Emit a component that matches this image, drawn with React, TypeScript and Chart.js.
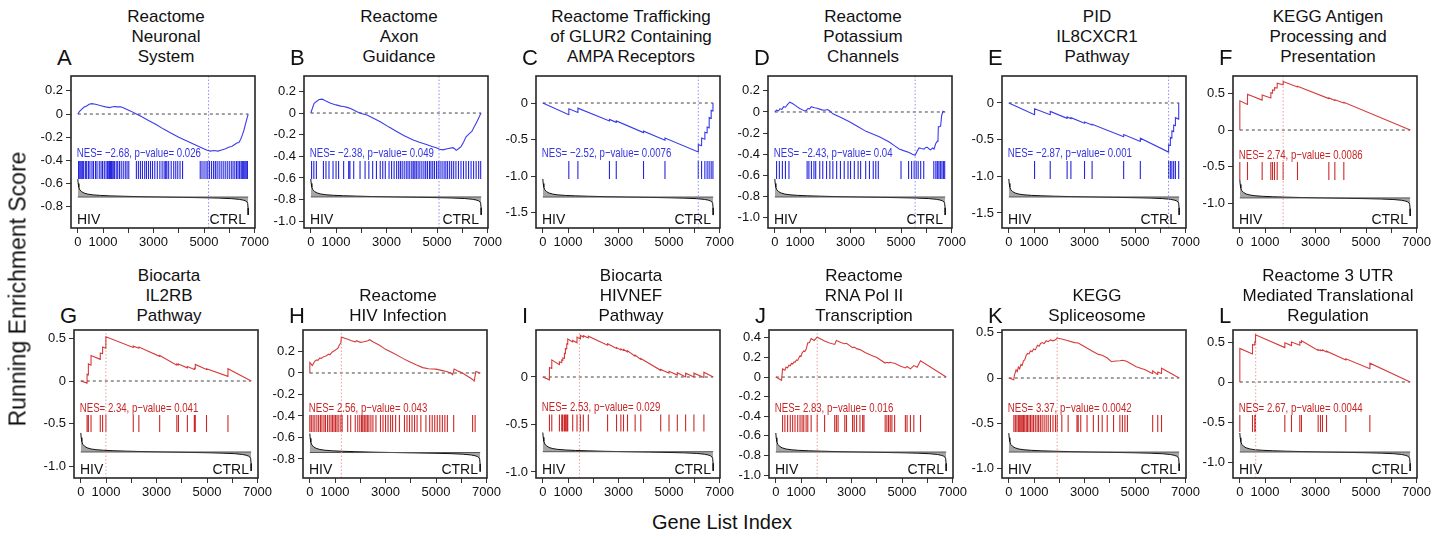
import React, { useEffect, useRef } from 'react';
import { Chart, registerables } from 'chart.js';
Chart.register(...registerables);

const FONT = '"Liberation Sans", Arial, Helvetica, sans-serif';

// ---------- data ----------
const panelLetters = ['A', 'B', 'C', 'D', 'E', 'F', 'G', 'H', 'I', 'J', 'K', 'L'];
const panelTitles = [
  ['Reactome', 'Neuronal', 'System'],
  ['Reactome', 'Axon', 'Guidance'],
  ['Reactome Trafficking', 'of GLUR2 Containing', 'AMPA Receptors'],
  ['Reactome', 'Potassium', 'Channels'],
  ['PID', 'IL8CXCR1', 'Pathway'],
  ['KEGG Antigen', 'Processing and', 'Presentation'],
  ['Biocarta', 'IL2RB', 'Pathway'],
  ['Reactome', 'HIV Infection'],
  ['Biocarta', 'HIVNEF', 'Pathway'],
  ['Reactome', 'RNA Pol II', 'Transcription'],
  ['KEGG', 'Spliceosome'],
  ['Reactome 3 UTR', 'Mediated Translational', 'Regulation'],
];
const nesValues = [-2.68, -2.38, -2.52, -2.43, -2.87, 2.74, 2.34, 2.56, 2.53, 2.83, 3.37, 2.67];
const pValues = ['0.026', '0.049', '0.0076', '0.04', '0.001', '0.0086', '0.041', '0.043', '0.029', '0.016', '0.0042', '0.0044'];
const peakIndex = [5180, 5080, 6160, 5560, 6330, 1717, 993, 1250, 1450, 1640, 1916, 630];
const groupLabels = ['HIV', 'CTRL'];

const yMin = [-0.983, -1.062, -1.712, -1.096, -1.705, -1.342, -1.141, -0.977, -1.064, -1.03, -1.102, -1.2];
const yMax = [0.328, 0.342, 0.37, 0.34, 0.368, 0.74, 0.6, 0.4, 0.495, 0.48, 0.529, 0.65];
const yTicks = [
  [0.2, 0, -0.2, -0.4, -0.6, -0.8],
  [0.2, 0, -0.2, -0.4, -0.6, -0.8, -1.0],
  [0, -0.5, -1.0, -1.5],
  [0.2, 0, -0.2, -0.4, -0.6, -0.8, -1.0],
  [0, -0.5, -1.0, -1.5],
  [0.5, 0, -0.5, -1.0],
  [0.5, 0, -0.5, -1.0],
  [0.2, 0, -0.2, -0.4, -0.6, -0.8],
  [0, -0.5, -1.0],
  [0.4, 0.2, 0, -0.2, -0.4, -0.6, -0.8, -1.0],
  [0.5, 0, -0.5, -1.0],
  [0.5, 0, -0.5, -1.0],
];
const xTickValues = [0, 1000, 2000, 3000, 4000, 5000, 6000, 7000];
const xLabelValues = [0, 1000, 3000, 5000, 7000];
const geneListLength = 6750;

const nesY = [-0.336, -0.369, -0.685, -0.388, -0.682, -0.342, -0.318, -0.326, -0.319, -0.316, -0.331, -0.325];
const hitTop = [-0.405, -0.443, -0.795, -0.463, -0.791, -0.438, -0.4, -0.391, -0.394, -0.388, -0.408, -0.413];
const hitBottom = [-0.56, -0.609, -1.041, -0.633, -1.037, -0.685, -0.6, -0.549, -0.574, -0.561, -0.595, -0.625];
const metricBase = [-0.716, -0.775, -1.288, -0.803, -1.282, -0.93, -0.835, -0.74, -0.787, -0.765, -0.816, -0.875];
const metricScale = [0.155, 0.166, 0.247, 0.17, 0.246, 0.247, 0.224, 0.177, 0.202, 0.194, 0.209, 0.2375];

// ranked list metric (normalised)
const metricIndex = [0, 15, 40, 80, 150, 250, 400, 600, 900, 1300, 1800, 2500, 3300, 4200, 5000, 5600, 6100, 6400, 6550, 6650, 6700, 6730, 6745, 6750];
const metricValue = [1.0, 0.75, 0.55, 0.4, 0.3, 0.22, 0.16, 0.12, 0.09, 0.065, 0.045, 0.02, 0.0, -0.02, -0.04, -0.06, -0.09, -0.13, -0.17, -0.22, -0.27, -0.35, -0.6, -1.0];

// running enrichment scores [index, ES]
const esA = [[0,0],[60,0.02],[150,0.04],[250,0.06],[350,0.07],[450,0.085],[550,0.09],[700,0.085],[850,0.075],[950,0.07],[1100,0.062],[1250,0.055],[1350,0.06],[1450,0.065],[1550,0.062],[1700,0.063],[1800,0.055],[1950,0.04],[2100,0.025],[2300,0.003],[2500,-0.02],[2800,-0.055],[3100,-0.09],[3400,-0.13],[3700,-0.165],[4000,-0.2],[4300,-0.23],[4600,-0.26],[4900,-0.29],[5100,-0.31],[5250,-0.32],[5400,-0.315],[5550,-0.32],[5700,-0.31],[5850,-0.3],[6000,-0.285],[6100,-0.28],[6200,-0.265],[6300,-0.25],[6380,-0.245],[6450,-0.22],[6520,-0.18],[6580,-0.14],[6640,-0.09],[6700,-0.04],[6750,0]];
const esB = [[0,0],[130,0.09],[330,0.125],[460,0.128],[600,0.11],[785,0.09],[1000,0.075],[1180,0.064],[1300,0.06],[1440,0.052],[1600,0.04],[1830,0.012],[2000,-0.005],[2225,-0.018],[2500,-0.05],[2750,-0.08],[3100,-0.13],[3400,-0.17],[3700,-0.21],[4060,-0.25],[4300,-0.27],[4580,-0.29],[4800,-0.31],[4970,-0.32],[5100,-0.335],[5235,-0.34],[5400,-0.33],[5630,-0.32],[5700,-0.33],[5760,-0.345],[5850,-0.33],[5950,-0.31],[6050,-0.27],[6150,-0.22],[6280,-0.19],[6380,-0.17],[6480,-0.125],[6580,-0.08],[6675,-0.035],[6740,0]];
const esC = [[0,0],[1030,-0.16],[1031,-0.08],[1390,-0.13],[1391,-0.07],[2640,-0.245],[2641,-0.225],[2910,-0.265],[2911,-0.245],[3990,-0.405],[3991,-0.385],[4840,-0.51],[4841,-0.48],[6160,-0.67],[6161,-0.57],[6290,-0.585],[6291,-0.48],[6420,-0.495],[6421,-0.4],[6510,-0.41],[6511,-0.33],[6590,-0.34],[6591,-0.2],[6670,-0.21],[6671,-0.1],[6740,-0.11],[6741,0]];
const esD = [[0,0],[70,0.017],[150,0.01],[200,0.03],[280,0.025],[350,0.05],[420,0.045],[500,0.07],[590,0.093],[700,0.08],[850,0.055],[985,0.033],[1100,0.02],[1180,0.01],[1250,0.015],[1314,0.033],[1380,0.03],[1445,0.05],[1510,0.045],[1577,0.04],[1680,0.035],[1774,0.027],[1870,0.02],[1971,0.017],[2100,0.023],[2200,0.005],[2300,-0.017],[2600,-0.05],[2957,-0.093],[3300,-0.14],[3614,-0.183],[3900,-0.21],[4140,-0.233],[4534,-0.283],[4750,-0.32],[4928,-0.35],[5100,-0.365],[5322,-0.383],[5450,-0.4],[5558,-0.41],[5600,-0.39],[5650,-0.367],[5716,-0.34],[5800,-0.345],[5913,-0.35],[5980,-0.335],[6045,-0.333],[6110,-0.35],[6176,-0.357],[6250,-0.34],[6308,-0.35],[6373,-0.3],[6440,-0.275],[6465,-0.267],[6478,-0.14],[6520,-0.14],[6570,-0.133],[6610,-0.033],[6662,0.007],[6728,0]];
const esE = [[0,0],[1020,-0.16],[1021,-0.08],[1640,-0.16],[1641,-0.115],[2310,-0.21],[2311,-0.19],[2460,-0.215],[2461,-0.2],[3000,-0.275],[3001,-0.26],[3300,-0.3],[3301,-0.29],[4550,-0.46],[4551,-0.43],[5210,-0.525],[5211,-0.48],[6330,-0.67],[6331,-0.57],[6400,-0.58],[6401,-0.47],[6460,-0.48],[6461,-0.38],[6530,-0.39],[6531,-0.3],[6600,-0.31],[6601,-0.2],[6730,-0.22],[6731,0]];
const esF = [[0,0],[1,0.4],[304,0.35],[305,0.49],[885,0.41],[886,0.48],[1229,0.44],[1230,0.51],[1295,0.505],[1296,0.55],[1374,0.545],[1375,0.58],[1480,0.575],[1481,0.64],[1716,0.62],[1717,0.665],[2285,0.59],[2286,0.6],[3527,0.43],[3528,0.44],[3765,0.405],[3766,0.415],[4121,0.37],[4122,0.38],[6750,0]];
const esG = [[0,0],[247,-0.025],[248,0.08],[299,0.07],[300,0.2],[404,0.185],[405,0.3],[770,0.255],[771,0.33],[862,0.32],[863,0.4],[992,0.385],[993,0.52],[2077,0.395],[2078,0.41],[2299,0.385],[2300,0.4],[3123,0.29],[3124,0.3],[3803,0.185],[3804,0.2],[3868,0.19],[3869,0.2],[4221,0.155],[4222,0.17],[4496,0.135],[4497,0.15],[4535,0.145],[4536,0.195],[4979,0.135],[4980,0.145],[5829,0.055],[5830,0.145],[6750,0]];
const esH = [[0,0],[1,0.097],[100,0.07],[150,0.09],[200,0.11],[260,0.12],[330,0.12],[400,0.14],[460,0.135],[530,0.15],[600,0.155],[660,0.16],[740,0.175],[800,0.17],[860,0.19],[920,0.2],[990,0.21],[1050,0.22],[1110,0.23],[1170,0.26],[1230,0.28],[1250,0.333],[1450,0.318],[1650,0.3],[1800,0.29],[1850,0.3],[2000,0.285],[2150,0.29],[2300,0.3],[2370,0.31],[2500,0.29],[2763,0.258],[3000,0.22],[3300,0.185],[3684,0.136],[3950,0.105],[4210,0.076],[4474,0.05],[4700,0.04],[5000,0.036],[5300,0.02],[5592,0],[5660,-0.015],[5720,0.036],[5900,0.015],[6050,0],[6250,-0.03],[6450,-0.06],[6513,-0.076],[6580,0.015],[6750,0]];
const esI = [[0,0],[262,-0.03],[263,0.1],[354,0.09],[355,0.18],[657,0.13],[658,0.16],[750,0.15],[751,0.18],[790,0.175],[791,0.2],[855,0.195],[856,0.25],[895,0.245],[896,0.3],[947,0.295],[948,0.35],[987,0.345],[988,0.4],[1184,0.37],[1185,0.385],[1354,0.36],[1355,0.42],[1487,0.4],[1488,0.44],[1604,0.42],[1605,0.435],[1802,0.41],[1803,0.43],[2565,0.335],[2566,0.35],[2920,0.3],[2921,0.31],[3091,0.285],[3092,0.295],[3196,0.28],[3197,0.29],[3354,0.265],[3355,0.275],[3657,0.22],[3658,0.23],[3881,0.185],[3882,0.195],[4670,0.07],[4671,0.08],[4999,0.04],[5000,0.06],[5328,0.02],[5329,0.045],[5657,0.0],[5658,0.04],[5986,0.0],[5987,0.04],[6381,-0.005],[6382,0.05],[6750,0]];
const esJ = [[0,0],[227,-0.033],[267,0.083],[360,0.07],[400,0.1],[467,0.095],[520,0.12],[573,0.115],[620,0.14],[667,0.133],[720,0.155],[760,0.15],[820,0.175],[867,0.17],[920,0.2],[960,0.217],[1000,0.21],[1040,0.245],[1107,0.267],[1150,0.26],[1200,0.283],[1267,0.35],[1330,0.35],[1400,0.393],[1520,0.373],[1640,0.407],[1800,0.385],[1933,0.367],[2100,0.35],[2333,0.333],[2400,0.373],[2600,0.35],[2733,0.34],[2800,0.345],[3040,0.3],[3107,0.305],[3200,0.29],[3333,0.28],[3440,0.265],[3533,0.25],[3800,0.22],[4000,0.2],[4333,0.143],[4400,0.15],[4467,0.145],[4533,0.15],[4600,0.145],[4707,0.14],[4900,0.115],[5133,0.093],[5200,0.107],[5333,0.083],[5467,0.117],[5600,0.1],[5733,0.167],[6750,0]];
const esK = [[0,0],[196,-0.02],[220,0.03],[287,0.09],[330,0.07],[380,0.12],[430,0.1],[480,0.15],[530,0.14],[580,0.19],[630,0.2],[690,0.25],[743,0.27],[800,0.265],[860,0.3],[920,0.29],[980,0.32],[1050,0.31],[1134,0.36],[1200,0.35],[1260,0.38],[1320,0.39],[1400,0.38],[1480,0.41],[1560,0.4],[1650,0.42],[1750,0.41],[1850,0.42],[1916,0.44],[2100,0.43],[2350,0.41],[2600,0.39],[2750,0.385],[2850,0.37],[3090,0.33],[3350,0.29],[3550,0.26],[3700,0.25],[3900,0.22],[4068,0.18],[4150,0.185],[4400,0.19],[4500,0.196],[4600,0.19],[4700,0.18],[5046,0.125],[5400,0.09],[5690,0.05],[5700,0.08],[5890,0.04],[5900,0.065],[6040,0.05],[6050,0.107],[6750,0]];
const esL = [[0,0],[1,0.42],[502,0.35],[503,0.47],[594,0.46],[595,0.5],[620,0.495],[621,0.59],[1783,0.43],[1784,0.49],[2047,0.455],[2048,0.5],[2377,0.46],[2378,0.5],[2443,0.49],[2444,0.515],[3104,0.395],[3105,0.405],[3197,0.39],[3198,0.4],[3276,0.39],[3277,0.4],[3435,0.375],[3436,0.385],[4200,0.275],[4201,0.29],[5152,0.165],[5153,0.235],[6750,0]];

// gene set hit positions
const hitsA = [30,80,130,180,230,300,350,420,480,560,620,700,760,850,920,980,1050,1120,1180,1230,1270,1310,1350,1400,1450,1520,1580,1650,1720,1800,1880,1950,2020,2320,2400,2480,2560,2650,2720,2800,2880,2960,3050,3150,3250,3340,3420,3480,3530,3600,3700,3800,3880,3960,4050,4150,4850,4920,5000,5080,5150,5220,5300,5380,5450,5520,5600,5680,5760,5840,5920,6000,6080,6150,6220,6290,6350,6410,6470,6520,6570,6620,6670,6720];
const hitsB = [30,120,220,500,600,720,880,1000,1100,1300,1500,1550,1700,1950,2150,2300,2450,2600,2750,2850,2950,3100,3200,3300,3400,3480,3550,3620,3700,3780,3850,3920,4000,4060,4120,4180,4250,4320,4400,4480,4550,4620,4700,4760,4830,4900,4980,5050,5120,5200,5280,5350,5420,5500,5580,5660,5750,5850,5950,6050,6150,6250,6350,6450,6550,6650,6730];
const hitsC = [1030,1390,2640,2910,3990,4840,6160,6290,6420,6510,6590,6670,6740];
const hitsD = [70,180,300,420,560,1280,1350,1450,1550,1620,1780,1900,2050,2180,2300,2450,2600,2750,2900,3000,3150,3300,3400,3600,3750,3900,4000,4100,5000,5300,5420,5520,5600,5680,5780,5900,6300,6380,6440,6500,6560,6620,6680,6730];
const hitsE = [1020,1640,2310,2460,3000,3300,4550,5210,6330,6400,6460,6530,6600,6730];
const hitsF = [0,304,885,1229,1295,1374,1480,1717,2285,3527,3765,4121];
const hitsG = [248,300,405,771,863,993,2078,2300,3124,3804,3869,4222,4497,4536,4980,5830];
const hitsH = [0,60,130,200,280,350,420,480,560,620,700,770,840,900,960,1020,1080,1150,1230,1280,1500,1620,1800,1900,1980,2050,2100,2160,2220,2280,2340,2420,2500,2620,2800,2900,3000,3100,3200,3280,3400,3550,3750,3850,3950,4050,4150,4250,4400,4600,4750,4850,4950,5050,5150,5250,5350,5450,5700,6450,6550];
const hitsI = [263,355,658,750,790,855,895,947,987,1184,1355,1487,1605,1803,2566,2921,3092,3197,3355,3658,3882,4671,5000,5329,5658,5987,6382];
const hitsJ = [267,360,467,573,667,760,867,960,1040,1107,1200,1267,1400,1640,1933,2333,2400,2467,2733,2800,3040,3107,3200,3333,3440,3493,4333,4400,4467,4533,4600,4707,5133,5200,5333,5467,5733];
const hitsK = [200,260,320,380,430,480,530,580,630,690,740,800,860,920,980,1050,1120,1180,1250,1320,1400,1480,1560,1650,1750,1850,1920,2100,2350,2700,2750,2850,3100,3350,3550,3700,3900,4150,4400,4500,4600,4700,5700,5900,6050];
const hitsL = [0,502,594,620,1783,2047,2377,2443,3104,3197,3276,3435,4200,5152];

const esCurves = [esA, esB, esC, esD, esE, esF, esG, esH, esI, esJ, esK, esL];
const hitSets = [hitsA, hitsB, hitsC, hitsD, hitsE, hitsF, hitsG, hitsH, hitsI, hitsJ, hitsK, hitsL];

// ---------- layout ----------
const X_MIN = -270;
const X_MAX = 7020;
const BOX_W = 184;
const colLeft = [[71, 304, 536, 768, 1002, 1233], [74, 303, 536, 769, 1002, 1233]];
const rowTop = [76, 330];
const rowBottom = [228, 478];
const titleBottom = [67, 326];
const letterTop = [47, 305];
const PAD_L = 42;
const PAD_T = 10;
const PAD_R = 22;
const AXIS_H = 26;

function nesLabel(i: number) {
  const v = nesValues[i];
  const s = v < 0 ? '\u2212' + Math.abs(v).toFixed(2) : v.toFixed(2);
  return `NES= ${s}, p\u2212value= ${pValues[i]}`;
}

function buildConfig(i: number): any {
  const down = nesValues[i] < 0;
  const esColor = down ? '#3c3cec' : '#d63c3c';
  const hitColor = down ? '#2626e0' : '#cc2a2a';
  const peakColor = down ? '#8f8ff5' : '#f09a9a';
  const textColor = down ? '#3434e0' : '#c82626';
  const base = metricBase[i];
  const sc = metricScale[i];

  const hitPts: any[] = [];
  hitSets[i].forEach((h) => {
    hitPts.push({ x: h, y: hitTop[i] }, { x: h, y: hitBottom[i] }, { x: h, y: null });
  });

  const common = { pointRadius: 0, pointHoverRadius: 0, tension: 0, fill: false };

  const decor = {
    id: 'panelDecor' + i,
    afterDatasetsDraw(chart: any) {
      const { ctx, chartArea: a, scales } = chart;
      ctx.save();
      ctx.strokeStyle = '#262626';
      ctx.lineWidth = 1.6;
      ctx.strokeRect(a.left, a.top, a.right - a.left, a.bottom - a.top);
      // NES label, condensed
      ctx.save();
      ctx.translate(scales.x.getPixelForValue(0) - 1, scales.y.getPixelForValue(nesY[i]));
      ctx.scale(0.74, 1);
      ctx.fillStyle = textColor;
      ctx.font = `13px ${FONT}`;
      ctx.textAlign = 'left';
      ctx.textBaseline = 'middle';
      ctx.fillText(nesLabel(i), 0, 0);
      ctx.restore();
      ctx.fillStyle = '#111';
      ctx.font = `14px ${FONT}`;
      ctx.textBaseline = 'alphabetic';
      ctx.textAlign = 'left';
      ctx.fillText(groupLabels[0], a.left + 6, a.bottom - 4);
      ctx.textAlign = 'right';
      ctx.fillText(groupLabels[1], a.right - 9, a.bottom - 4);
      ctx.restore();
    },
  };

  return {
    type: 'line',
    data: {
      datasets: [
        { ...common, data: esCurves[i].map(([x, y]) => ({ x, y })), borderColor: esColor, borderWidth: 1.1 },
        { ...common, data: [{ x: peakIndex[i], y: yMin[i] }, { x: peakIndex[i], y: yMax[i] }], borderColor: peakColor, borderWidth: 1, borderDash: [1.5, 2] },
        { ...common, data: [{ x: 0, y: 0 }, { x: geneListLength, y: 0 }], borderColor: '#444', borderWidth: 1, borderDash: [3, 3] },
        { ...common, data: hitPts, borderColor: hitColor, borderWidth: 1.1, spanGaps: false },
        { ...common, data: [{ x: 0, y: base }, { x: geneListLength, y: base }], borderColor: '#555', borderWidth: 1 },
        {
          ...common,
          data: metricIndex.map((x, j) => ({ x, y: base + metricValue[j] * sc })),
          borderColor: '#111',
          borderWidth: 1,
          fill: { value: base },
          backgroundColor: '#a6a6a6',
        },
      ],
    },
    options: {
      animation: false,
      responsive: false,
      devicePixelRatio: 1,
      events: [],
      layout: { padding: { left: 0, top: PAD_T, right: PAD_R, bottom: 0 } },
      plugins: { legend: { display: false }, tooltip: { enabled: false }, title: { display: false } },
      scales: {
        x: {
          type: 'linear',
          min: X_MIN,
          max: X_MAX,
          afterBuildTicks: (axis: any) => {
            axis.ticks = xTickValues.map((v) => ({ value: v }));
          },
          afterFit: (axis: any) => {
            axis.height = AXIS_H;
            axis.paddingLeft = 0;
            axis.paddingRight = 0;
          },
          ticks: {
            autoSkip: false,
            maxRotation: 0,
            minRotation: 0,
            padding: 2,
            color: '#111',
            font: { family: FONT, size: 13 },
            callback: (v: any) => (xLabelValues.includes(v) ? String(v) : ''),
          },
          grid: { display: true, drawOnChartArea: false, drawTicks: true, tickLength: 5, color: '#333', lineWidth: 1 },
          border: { display: false },
        },
        y: {
          type: 'linear',
          min: yMin[i],
          max: yMax[i],
          afterBuildTicks: (axis: any) => {
            axis.ticks = yTicks[i].map((v) => ({ value: v }));
          },
          afterFit: (axis: any) => {
            axis.width = PAD_L;
            axis.paddingTop = 0;
            axis.paddingBottom = 0;
          },
          ticks: {
            padding: 3,
            color: '#111',
            font: { family: FONT, size: 13 },
            callback: (v: any) => (v === 0 ? '0' : Number(v).toFixed(1)),
          },
          grid: { display: true, drawOnChartArea: false, drawTicks: true, tickLength: 5, color: '#333', lineWidth: 1 },
          border: { display: false },
        },
      },
    },
    plugins: [decor],
  };
}

export default function App() {
  const refs = useRef<(HTMLCanvasElement | null)[]>([]);

  useEffect(() => {
    const charts = refs.current.map((c, i) => (c ? new Chart(c, buildConfig(i)) : null));
    return () => charts.forEach((ch) => ch && ch.destroy());
  }, []);

  const panels = panelLetters.map((letter, i) => {
    const row = i < 6 ? 0 : 1;
    const col = i % 6;
    const left = colLeft[row][col];
    const top = rowTop[row];
    const boxH = rowBottom[row] - top;
    const cw = BOX_W + PAD_L + PAD_R;
    const chh = boxH + PAD_T + AXIS_H;
    const lines = panelTitles[i];
    return (
      <React.Fragment key={letter}>
        <div
          style={{
            position: 'absolute',
            left: left + 95 - 110,
            width: 220,
            top: titleBottom[row] - lines.length * 20,
            textAlign: 'center',
            fontFamily: FONT,
            fontSize: 17,
            lineHeight: '20px',
            color: '#111',
            whiteSpace: 'nowrap',
          }}
        >
          {lines.map((l, k) => (
            <div key={k}>{l}</div>
          ))}
        </div>
        <div
          style={{
            position: 'absolute',
            left: left - 14,
            top: letterTop[row],
            fontFamily: FONT,
            fontSize: 22,
            lineHeight: '22px',
            color: '#111',
          }}
        >
          {letter}
        </div>
        <canvas
          ref={(el) => {
            refs.current[i] = el;
          }}
          width={cw}
          height={chh}
          style={{ position: 'absolute', left: left - PAD_L, top: top - PAD_T, width: cw, height: chh }}
        />
      </React.Fragment>
    );
  });

  return (
    <div style={{ position: 'fixed', left: 0, top: 0, width: 1444, height: 537, background: '#fff', overflow: 'hidden' }}>
      {panels}
      <div
        style={{
          position: 'absolute',
          left: 18,
          top: 289,
          transform: 'translate(-50%, -50%) rotate(-90deg)',
          fontFamily: FONT,
          fontSize: 23,
          color: '#111',
          whiteSpace: 'nowrap',
        }}
      >
        Running Enrichment Score
      </div>
      <div
        style={{
          position: 'absolute',
          left: 722,
          top: 522,
          transform: 'translate(-50%, -50%)',
          fontFamily: FONT,
          fontSize: 20,
          color: '#111',
          whiteSpace: 'nowrap',
        }}
      >
        Gene List Index
      </div>
    </div>
  );
}
